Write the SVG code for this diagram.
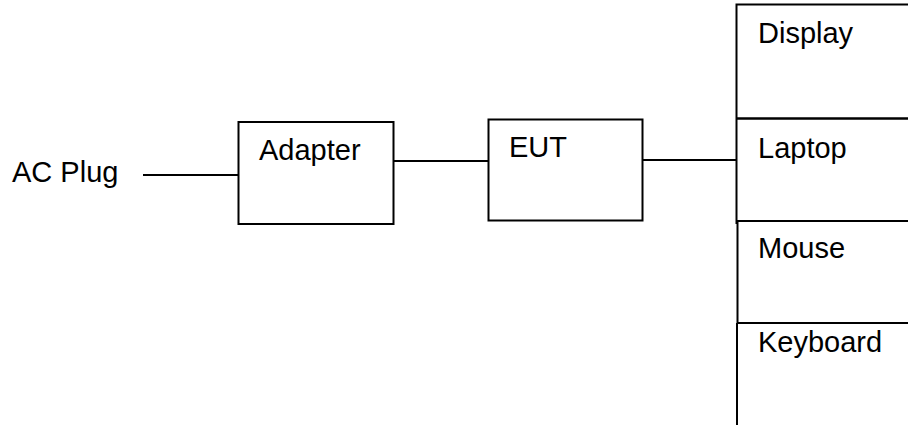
<svg xmlns="http://www.w3.org/2000/svg" width="908" height="425" viewBox="0 0 908 425">
<style>
.box{fill:none;stroke:#000;stroke-width:2}
.ln{fill:none;stroke:#000;stroke-width:2}
.t{font-family:"Liberation Sans",Arial,sans-serif;font-size:29px;fill:#000}
</style>
<rect width="908" height="425" fill="#fff"/>
<g id="connectors">
<line class="ln" x1="143" y1="175" x2="238" y2="175"/>
<line class="ln" x1="393" y1="161" x2="488" y2="161"/>
<line class="ln" x1="642" y1="160" x2="736" y2="160"/>
</g>
<g id="ac-plug"><text class="t" x="12" y="182">AC Plug</text></g>
<g id="adapter">
<rect class="box" x="238.5" y="122" width="155" height="102"/>
<text class="t" x="259" y="160">Adapter</text>
</g>
<g id="eut">
<rect class="box" x="488.5" y="119.5" width="154" height="101"/>
<text class="t" x="509" y="157">EUT</text>
</g>
<g id="display">
<path class="box" d="M909,4.5 H736.5 V118"/>
<text class="t" x="758" y="43">Display</text>
</g>
<g id="laptop">
<line x1="736" y1="118.5" x2="909" y2="118.5" stroke="#000" stroke-width="2.5"/>
<line class="ln" x1="736.5" y1="118" x2="736.5" y2="224"/>
<text class="t" x="758" y="158">Laptop</text>
</g>
<g id="mouse">
<line class="ln" x1="737" y1="221" x2="909" y2="221"/>
<line class="ln" x1="737.5" y1="221" x2="737.5" y2="323"/>
<text class="t" x="758" y="258">Mouse</text>
</g>
<g id="keyboard">
<line class="ln" x1="737" y1="323" x2="909" y2="323"/>
<line class="ln" x1="737" y1="323" x2="737" y2="426"/>
<text class="t" x="758" y="352">Keyboard</text>
</g>
</svg>
